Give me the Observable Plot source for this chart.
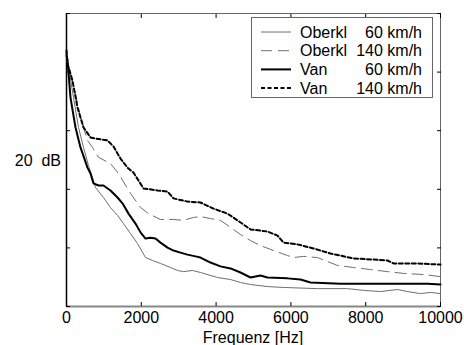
<!DOCTYPE html>
<html><head><meta charset="utf-8">
<script src="https://cdn.jsdelivr.net/npm/d3@7"></script>
<script src="https://cdn.jsdelivr.net/npm/@observablehq/plot@0.6"></script>
<style>body{margin:0;background:#fff;} #chart{width:464px;height:345px;}</style>
</head><body><div id="chart"></div>
<script>
// Frequency (Hz) and relative level (arbitrary dB units, 0..100) per series
const oberkl60Freq  = [0,53,187,321,455,588,722,775,989,1176,1364,1524,1711,1898,2112,2299,2513,2781,2968,3128,3369,3583,4037,4385,4652,4920,5374,5802,6711,7513,7941,8396,8850,9118,9465,9733,10000];
const oberkl60Level = [84.0,81.9,71.3,61.1,54.3,48.1,43.0,40.6,37.2,33.8,31.1,28.3,24.9,21.5,16.7,15.7,14.7,13.3,12.3,11.9,12.3,11.6,9.9,9.2,8.2,7.5,6.8,6.5,6.1,6.1,5.5,5.1,5.8,5.1,4.4,4.8,4.4];

const oberkl140Freq  = [0,107,241,374,561,695,856,1176,1390,1711,1979,2193,2513,2861,3128,3396,3583,3850,4118,4385,4652,4920,5187,5535,5909,6070,6337,6711,7246,7674,8128,8583,9011,9545,10000];
const oberkl140Level = [84.6,79.5,72.7,64.5,56.7,54.3,50.9,48.8,45.4,38.6,33.8,31.7,29.7,29.7,29.4,30.4,30.7,30.0,29.4,27.0,24.6,22.5,20.8,19.1,17.4,16.7,17.1,16.7,14.0,13.3,12.6,11.9,11.3,10.9,10.2];

const van60Freq  = [0,27,107,241,374,561,642,722,856,989,1176,1364,1497,1658,1845,1979,2112,2246,2380,2513,2701,2861,3048,3235,3449,3583,3850,4118,4385,4652,4920,5187,5374,5909,6257,6524,7326,8850,9652,10000];
const van60Level = [85.7,84.0,71.3,61.1,54.3,47.4,45.4,42.0,41.3,41.3,39.6,37.2,35.2,31.7,28.3,25.3,23.2,23.5,23.2,21.8,20.1,19.1,18.4,17.7,17.1,16.7,15.0,13.7,13.0,11.6,9.9,10.6,9.9,9.6,9.2,8.2,7.8,7.8,7.8,7.5];

const van140Freq  = [0,27,160,294,455,642,775,1096,1257,1444,1631,1791,2059,2433,2701,2861,3235,3583,3930,4305,4572,4920,5374,5642,5802,6176,6604,7059,7674,8209,8583,8743,9385,10000];
const van140Level = [87.4,82.9,77.1,67.9,61.1,57.7,57.3,56.7,54.6,50.5,47.4,45.7,40.3,39.6,39.2,36.9,35.8,35.5,33.4,31.7,29.4,26.3,25.6,24.2,21.8,21.2,19.8,18.1,16.4,16.0,15.7,14.7,14.7,14.3];

const xTicks = [0,2000,4000,6000,8000,10000];
const yTicks = [0,20,40,60,80,100];
const legendNames  = ["Oberkl","Oberkl","Van","Van"];
const legendSpeeds = ["60 km/h","140 km/h","60 km/h","140 km/h"];
const xLabel = "Frequenz [Hz]";
const yLabel = "20  dB";

const toRows = (f, v) => f.map((d, i) => ({f: d, v: v[i]}));
const gray = "#6e6e6e";
const styles = [
  {stroke: gray, strokeWidth: 1, dash: null},
  {stroke: gray, strokeWidth: 1, dash: "11,6"},
  {stroke: "#000", strokeWidth: 2, dash: null},
  {stroke: "#000", strokeWidth: 2, dash: "4,2.5"}
];
const series = [
  toRows(oberkl60Freq, oberkl60Level),
  toRows(oberkl140Freq, oberkl140Level),
  toRows(van60Freq, van60Level),
  toRows(van140Freq, van140Level)
];

const chart = Plot.plot({
  width: 464, height: 345,
  marginLeft: 66, marginRight: 24, marginTop: 13, marginBottom: 39,
  style: {fontFamily: "'Liberation Sans', Arial, sans-serif", fontSize: "16px", color: "#000", background: "#fff"},
  x: {domain: [0, 10000], ticks: xTicks},
  y: {domain: [0, 100], ticks: yTicks},
  marks: [
    Plot.frame({stroke: "#666"}),
    Plot.ruleY([0], {stroke: "#888", strokeWidth: 2}),
    Plot.ruleX([0], {stroke: "#000", strokeWidth: 1.5}),
    Plot.axisX({anchor: "bottom", ticks: xTicks, tickSize: -4, text: null, label: null}),
    Plot.axisX({anchor: "top", ticks: xTicks, tickSize: -4, text: null, label: null}),
    Plot.axisX({anchor: "bottom", ticks: xTicks, tickSize: 0, tickPadding: 5, tickFormat: d => String(d), label: null, fontSize: 16}),
    Plot.axisY({anchor: "left", ticks: yTicks, tickSize: -4, text: null, label: null}),
    Plot.axisY({anchor: "right", ticks: yTicks, tickSize: -4, text: null, label: null}),
    ...series.map((rows, i) => Plot.line(rows, {x: "f", y: "v", stroke: styles[i].stroke, strokeWidth: styles[i].strokeWidth, strokeDasharray: styles[i].dash}))
  ]
});
document.getElementById("chart").appendChild(chart);

// Axis labels and legend drawn into the same SVG
const svg = d3.select(chart);
svg.append("text").attr("x", 253).attr("y", 343).attr("text-anchor", "middle")
  .attr("font-size", 16).text(xLabel);
svg.append("text").attr("x", 61).attr("y", 166).attr("text-anchor", "end")
  .attr("font-size", 16).style("white-space", "pre").text(yLabel);

const lg = svg.append("g");
lg.append("rect").attr("x", 251.5).attr("y", 17.5).attr("width", 181).attr("height", 80)
  .attr("fill", "#fff").attr("stroke", "#666");
legendNames.forEach((name, i) => {
  const cy = 32 + i * 18.7;
  lg.append("line").attr("x1", 261).attr("x2", 291).attr("y1", cy).attr("y2", cy)
    .attr("stroke", styles[i].stroke).attr("stroke-width", styles[i].strokeWidth)
    .attr("stroke-dasharray", styles[i].dash);
  lg.append("text").attr("x", 300).attr("y", cy + 5.5).attr("font-size", 16).attr("text-anchor", "start").text(name);
  lg.append("text").attr("x", 422).attr("y", cy + 5.5).attr("font-size", 16).attr("text-anchor", "end").text(legendSpeeds[i]);
});
</script>
</body></html>
